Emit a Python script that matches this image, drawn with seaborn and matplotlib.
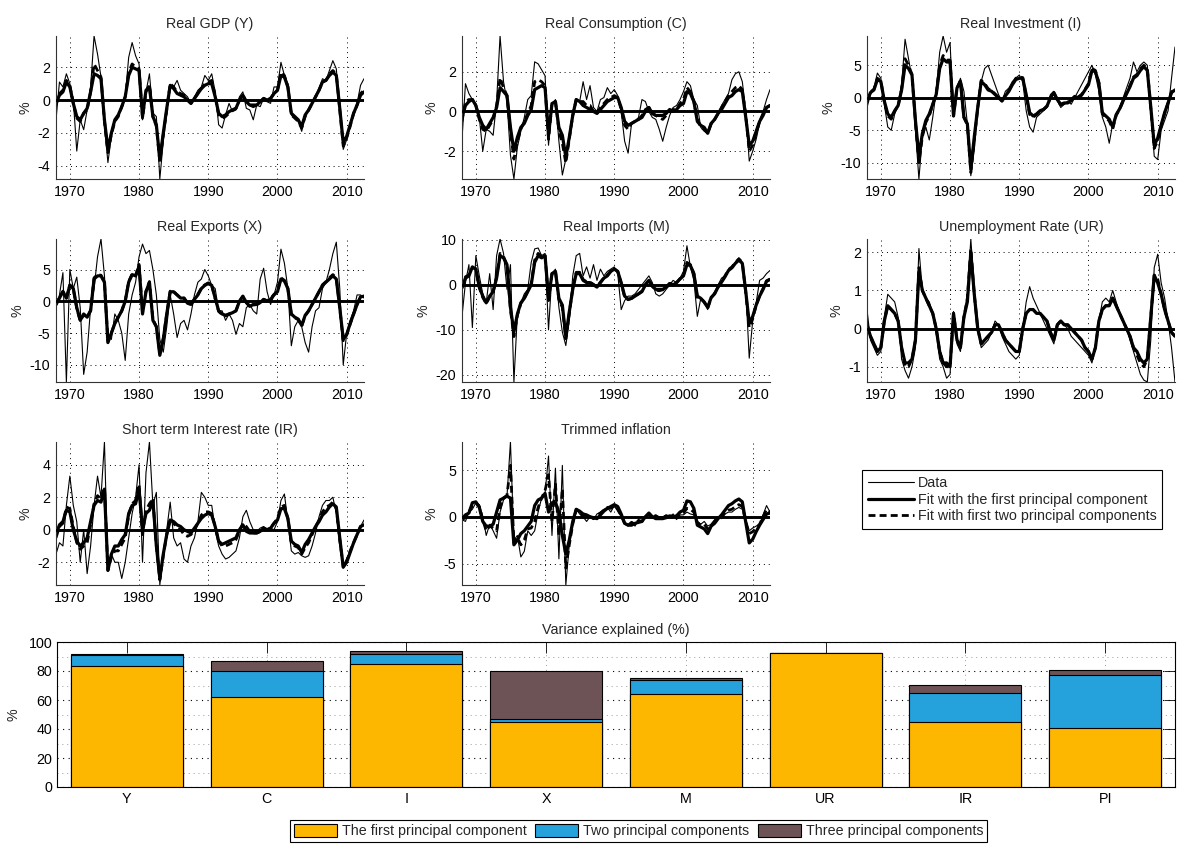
import numpy as np
import matplotlib
matplotlib.use("Agg")
import matplotlib.pyplot as plt
from matplotlib.lines import Line2D
from matplotlib.patches import Patch
from matplotlib.ticker import FixedLocator
import seaborn as sns

sns.set_style("white")
plt.rcParams["font.family"] = ["Liberation Sans", "DejaVu Sans"]
plt.rcParams["font.size"] = 10.3
plt.rcParams["axes.unicode_minus"] = False

FS = 10.3

# ---------------------------------------------------------------------------
# Half-yearly observations, 1968.0 ... 2012.5 (one row = five years)
# ---------------------------------------------------------------------------
gdp_data = [
    -1.2, 1.1, 0.8, 1.6, 1.0, 0.0, -3.1, -1.2, -1.8, -0.6,
    0.8, 3.9, 2.8, 1.4, -1.5, -3.8, -2.2, -1.3, -1.0, -0.3,
    0.2, 2.6, 3.5, 2.7, 2.2, -1.2, 0.5, 1.6, -0.8, -1.0,
    -4.8, -2.5, -0.8, 0.9, 0.8, 1.2, 0.6, 0.4, 0.2, -0.2,
    0.2, 0.6, 0.8, 1.5, 1.2, 1.6, 0.5, -1.5, -1.7, -0.9,
    -0.2, -0.7, -0.6, 0.2, 0.5, -0.5, -0.6, -1.2, -0.3, -0.4,
    0.1, -0.1, -0.2, 0.8, 0.8, 2.3, 1.5, 1.0, -0.9, -1.1,
    -1.3, -1.9, -1.0, -0.6, -0.2, 0.3, 0.7, 1.3, 1.2, 1.8,
    2.4, 1.9, -0.5, -3.0, -2.4, -1.6, -0.9, -0.2, 0.9, 1.3]
gdp_fit1 = [
    -0.2, 0.3, 0.5, 1.1, 0.8, -0.2, -1.0, -1.2, -0.8, -0.5,
    0.5, 1.6, 1.5, 1.3, -1.2, -3.0, -2.0, -1.2, -0.9, -0.4,
    0.2, 1.5, 2.0, 1.9, 1.8, -1.0, 0.6, 0.8, -1.0, -1.5,
    -3.6, -2.0, -0.5, 0.9, 0.7, 0.4, 0.3, 0.2, 0.0, -0.2,
    0.1, 0.4, 0.7, 0.9, 1.0, 1.0, 0.2, -0.8, -1.0, -0.9,
    -0.7, -0.6, -0.5, 0.0, 0.3, -0.1, -0.3, -0.3, -0.3, -0.1,
    0.1, 0.0, 0.1, 0.4, 0.6, 1.5, 1.4, 0.8, -0.8, -1.0,
    -1.2, -1.6, -0.9, -0.6, -0.2, 0.2, 0.6, 1.1, 1.2, 1.5,
    1.7, 1.5, -0.5, -2.6, -2.2, -1.5, -0.8, -0.3, 0.3, 0.5]
gdp_fit2 = [
    -0.3, 0.4, 0.6, 1.2, 0.9, -0.2, -1.1, -1.3, -0.8, -0.6,
    0.5, 2.2, 1.8, 1.4, -1.3, -3.2, -2.1, -1.3, -1.0, -0.4,
    0.2, 1.7, 2.2, 2.0, 1.9, -1.1, 0.5, 0.9, -1.0, -1.6,
    -3.8, -2.1, -0.6, 1.0, 0.8, 0.5, 0.4, 0.3, 0.0, -0.2,
    0.1, 0.4, 0.7, 1.0, 1.1, 1.2, 0.3, -0.9, -1.1, -1.0,
    -0.8, -0.6, -0.5, 0.0, 0.3, -0.1, -0.3, -0.4, -0.3, -0.1,
    0.1, 0.0, 0.1, 0.4, 0.6, 1.7, 1.5, 0.8, -0.9, -1.1,
    -1.3, -1.7, -1.0, -0.6, -0.2, 0.2, 0.6, 1.1, 1.2, 1.6,
    1.8, 1.6, -0.6, -2.8, -2.3, -1.6, -0.8, -0.3, 0.4, 0.6]

cons_data = [
    -1.4, 1.4, 0.9, 0.6, 0.4, -0.3, -2.0, -0.9, -1.0, -1.2,
    0.5, 3.8, 1.5, 0.5, -2.2, -3.4, -1.8, -1.0, -0.3, 0.6,
    0.8, 2.5, 2.4, 2.1, 1.8, -1.7, 0.3, 0.6, -1.5, -3.2,
    -2.4, -1.5, -0.2, 0.6, 0.5, 1.5, 0.6, 1.3, 0.2, 0.0,
    0.6, 0.7, 1.2, 0.9, 1.1, 0.8, 0.0, -1.5, -2.1, -0.6,
    -0.5, -0.3, 0.6, 0.5, 0.0, -0.3, -0.4, -0.9, -1.5, -0.8,
    -0.2, 0.2, 0.3, 0.6, 1.0, 1.5, 1.3, 0.6, 0.3, -0.8,
    -1.0, -1.1, -0.7, -0.4, -0.1, 0.3, 0.6, 0.9, 1.6, 1.9,
    2.0, 1.5, 0.0, -2.5, -2.0, -1.4, -0.6, 0.0, 0.6, 1.1]
cons_fit1 = [
    -0.3, 0.3, 0.5, 0.6, 0.3, -0.3, -0.7, -0.9, -0.6, -0.3,
    0.2, 1.2, 1.0, 0.8, -0.8, -2.0, -1.3, -0.8, -0.6, -0.2,
    0.1, 1.1, 1.2, 1.3, 1.2, -1.2, 0.4, 0.5, -0.8, -1.2,
    -2.3, -1.3, -0.2, 0.6, 0.5, 0.3, 0.2, 0.1, 0.0, -0.1,
    0.1, 0.3, 0.5, 0.6, 0.7, 0.7, 0.2, -0.5, -0.7, -0.6,
    -0.5, -0.4, -0.3, 0.0, 0.2, -0.1, -0.2, -0.2, -0.2, -0.1,
    0.1, 0.0, 0.1, 0.3, 0.4, 1.0, 0.9, 0.5, -0.5, -0.7,
    -0.8, -1.1, -0.6, -0.4, -0.1, 0.1, 0.4, 0.7, 0.8, 1.0,
    1.1, 1.0, -0.3, -1.7, -1.5, -1.0, -0.5, -0.2, 0.2, 0.3]
cons_fit2 = [
    -0.5, 0.5, 0.6, 0.6, 0.3, -0.4, -0.9, -1.0, -0.7, -0.4,
    0.3, 1.7, 1.2, 0.8, -1.0, -2.4, -1.5, -0.9, -0.5, -0.1,
    0.3, 1.5, 1.6, 1.5, 1.3, -1.4, 0.4, 0.5, -1.0, -1.6,
    -2.6, -1.4, -0.2, 0.6, 0.5, 0.5, 0.3, 0.3, 0.0, -0.1,
    0.2, 0.4, 0.6, 0.7, 0.8, 0.7, 0.1, -0.7, -0.9, -0.6,
    -0.5, -0.4, -0.2, 0.1, 0.2, -0.1, -0.2, -0.3, -0.4, -0.2,
    0.0, 0.1, 0.1, 0.4, 0.6, 1.2, 1.0, 0.5, -0.4, -0.8,
    -0.9, -1.1, -0.6, -0.4, -0.1, 0.2, 0.5, 0.8, 1.0, 1.2,
    1.3, 1.1, -0.2, -2.0, -1.7, -1.1, -0.5, -0.1, 0.2, 0.3]

inv_data = [
    -1.5, 0.5, 1.5, 3.8, 3.0, -1.0, -4.5, -5.0, -2.5, -1.0,
    2.0, 9.0, 6.0, 3.0, -5.0, -12.5, -6.0, -4.5, -6.5, -3.0,
    1.0, 7.0, 9.5, 7.0, 8.5, -2.8, 1.5, 3.0, 1.0, -4.0,
    -12.0, -8.0, -2.0, 2.5, 4.5, 5.0, 3.5, 2.0, 0.5, -0.5,
    1.0, 1.5, 2.5, 3.0, 3.5, 2.5, -2.0, -4.5, -5.3, -3.0,
    -2.5, -2.0, -1.5, 0.5, 1.0, -0.5, -1.5, -1.0, -0.5, -1.0,
    0.0, 1.0, 2.0, 3.0, 4.0, 5.0, 3.5, 1.0, -3.0, -4.5,
    -7.0, -4.0, -2.5, -1.5, 0.0, 1.5, 3.0, 5.5, 4.0, 5.0,
    5.5, 5.0, -2.0, -9.0, -9.5, -5.0, -3.5, -2.0, 3.0, 7.8]
inv_fit1 = [
    -0.5, 0.8, 1.2, 2.8, 2.5, -0.5, -2.5, -3.0, -2.0, -1.2,
    1.2, 5.0, 4.5, 3.5, -3.5, -9.0, -5.5, -3.5, -2.5, -1.0,
    0.5, 4.5, 6.0, 5.5, 5.5, -2.8, 1.5, 2.5, -3.0, -4.0,
    -11.0, -6.0, -1.5, 2.5, 2.0, 1.2, 1.0, 0.5, 0.0, -0.5,
    0.3, 1.0, 2.0, 2.8, 3.0, 3.0, 0.5, -2.3, -2.8, -2.5,
    -2.0, -1.8, -1.3, 0.0, 0.8, -0.3, -1.0, -0.8, -0.8, -0.4,
    0.2, 0.0, 0.4, 1.2, 2.0, 4.2, 4.0, 2.3, -2.3, -2.8,
    -3.3, -4.5, -2.6, -1.7, -0.5, 0.6, 1.7, 3.0, 3.4, 4.2,
    4.8, 4.2, -1.4, -7.3, -6.2, -4.2, -2.3, -0.8, 0.8, 1.2]
inv_fit2 = [
    -0.6, 0.9, 1.3, 3.0, 2.6, -0.6, -2.8, -3.3, -2.1, -1.2,
    1.3, 6.0, 5.0, 3.6, -3.8, -10.0, -6.0, -3.8, -2.8, -1.0,
    0.6, 5.0, 6.5, 5.8, 5.8, -2.8, 1.5, 2.7, -3.0, -4.2,
    -11.5, -6.5, -1.6, 2.7, 2.2, 1.4, 1.1, 0.6, 0.0, -0.5,
    0.4, 1.1, 2.1, 3.0, 3.2, 3.1, 0.3, -2.6, -3.0, -2.6,
    -2.1, -1.8, -1.3, 0.0, 0.8, -0.4, -1.1, -0.9, -0.8, -0.4,
    0.2, 0.1, 0.5, 1.3, 2.2, 4.5, 4.2, 2.3, -2.5, -3.0,
    -3.6, -4.8, -2.7, -1.8, -0.5, 0.7, 1.9, 3.2, 3.6, 4.5,
    5.0, 4.5, -1.6, -7.8, -6.6, -4.4, -2.4, -0.8, 0.9, 1.3]

exp_data = [
    -1.0, 1.0, 4.5, -12.7, 5.0, 2.0, 3.8, -1.0, -11.5, -8.0,
    -1.0, 2.0, 7.0, 9.8, 4.0, -5.0, -6.0, -2.0, -3.0, -5.0,
    -9.3, -2.0, 1.0, 3.0, 7.0, 9.0, 7.5, 8.0, 5.0, 1.0,
    -6.0, -8.0, -4.0, 1.0, -2.0, -5.7, -3.5, -3.0, -4.5, -2.0,
    1.0, 3.0, 3.5, 5.0, 4.0, 2.5, 2.0, -1.5, -1.5, -3.0,
    -2.0, -3.0, -5.2, -3.5, -4.0, -1.0, -0.5, -1.5, -2.0, 3.5,
    5.2, 1.5, -0.5, 1.0, 3.0, 8.2, 6.0, 2.0, -7.0, -4.0,
    -3.0, -4.0, -6.5, -8.0, -4.0, -1.5, -1.0, 2.0, 3.0, 5.0,
    7.5, 9.3, 2.0, -10.0, -5.0, -3.0, -1.5, 1.0, 1.0, 0.5]
exp_fit1 = [
    -0.5, 0.5, 1.5, 0.5, 2.5, 2.0, -1.0, -3.0, -2.0, -2.5,
    -1.5, 3.5, 4.0, 4.0, 3.0, -6.5, -5.0, -3.5, -2.5, -1.5,
    0.0, 3.0, 4.2, 4.0, 5.5, -2.0, 1.5, 3.0, -3.0, -4.0,
    -8.5, -6.0, -2.0, 1.5, 1.5, 1.0, 0.5, 0.5, -0.3, -0.5,
    0.3, 1.0, 2.0, 2.5, 2.8, 2.5, 0.5, -1.5, -2.0, -2.2,
    -2.0, -1.8, -1.5, 0.0, 0.8, -0.2, -0.8, -0.5, -0.5, -0.2,
    0.3, 0.0, 0.3, 1.0, 1.5, 3.5, 3.2, 2.0, -2.0, -2.5,
    -2.8, -3.8, -2.2, -1.5, -0.5, 0.5, 1.5, 2.5, 3.0, 3.5,
    4.0, 3.5, -1.0, -6.0, -5.2, -3.5, -2.0, -0.5, 0.7, 0.8]
exp_fit2 = [
    -0.5, 0.6, 1.6, 0.5, 2.6, 2.0, -1.1, -3.1, -2.1, -2.5,
    -1.4, 3.7, 4.2, 4.1, 3.0, -6.3, -5.0, -3.4, -2.5, -1.5,
    0.1, 3.1, 4.3, 4.0, 5.8, -1.8, 1.6, 3.1, -2.8, -4.0,
    -8.2, -5.8, -2.0, 1.6, 1.5, 1.0, 0.5, 0.5, -0.3, -0.5,
    0.4, 1.1, 2.1, 2.6, 2.9, 2.5, 0.4, -1.6, -2.1, -2.3,
    -2.0, -1.8, -1.5, 0.0, 0.8, -0.2, -0.8, -0.6, -0.5, -0.2,
    0.3, 0.1, 0.4, 1.1, 1.6, 3.7, 3.3, 2.0, -2.1, -2.6,
    -2.9, -3.9, -2.3, -1.5, -0.5, 0.5, 1.5, 2.6, 3.1, 3.7,
    4.2, 3.7, -1.1, -6.2, -5.3, -3.6, -2.0, -0.5, 0.7, 0.8]

imp_data = [
    -7.0, 0.5, 4.5, -9.5, 6.5, 2.0, -2.0, -4.0, 2.5, -5.5,
    6.5, 10.2, 7.0, -1.0, 4.5, -21.6, -6.5, -4.0, -2.0, -1.0,
    5.0, 8.0, 8.2, 6.5, 7.0, -10.0, 2.5, 3.5, -5.0, -10.5,
    -13.5, -8.0, 2.0, 6.5, 7.0, 2.0, 4.0, 1.5, 4.5, 1.0,
    3.5, 2.0, 3.0, 3.5, 4.0, 2.5, -5.5, -3.5, -2.5, -2.5,
    -2.0, -1.0, 0.0, 1.0, 2.0, 0.5, -2.0, -2.5, -2.0, -1.0,
    0.0, 1.0, 0.5, 1.5, 3.0, 8.7, 4.0, 1.0, -7.0, -3.0,
    -4.0, -5.5, -3.0, -1.5, 0.0, 1.5, 2.0, 3.0, 4.0, 5.0,
    6.0, 5.0, -1.0, -16.3, -8.0, -4.0, 1.0, 1.5, 2.5, 3.2]
imp_fit1 = [
    -0.5, 1.5, 2.0, 4.0, 3.5, -0.5, -2.5, -4.0, -2.5, -1.5,
    1.5, 6.5, 6.0, 4.5, -5.0, -10.5, -6.5, -4.0, -3.0, -1.5,
    0.0, 5.0, 6.5, 6.0, 6.5, -3.0, 2.5, 3.0, -3.0, -4.5,
    -11.5, -6.0, -1.0, 2.5, 2.5, 1.0, 0.5, 0.5, 0.0, -0.5,
    0.5, 1.5, 2.0, 3.0, 3.5, 3.0, 0.5, -2.5, -3.2, -3.0,
    -2.5, -2.0, -1.5, 0.0, 1.0, -0.3, -1.0, -1.0, -1.0, -0.5,
    0.3, 0.0, 0.5, 1.3, 2.0, 4.5, 4.3, 2.5, -2.5, -3.0,
    -3.8, -5.0, -2.8, -2.0, -0.5, 0.6, 1.8, 3.2, 3.8, 4.8,
    5.5, 4.8, -1.5, -8.5, -7.0, -4.5, -2.5, -1.0, 0.8, 1.2]
imp_fit2 = [
    -0.8, 1.8, 2.2, 3.8, 3.6, -0.6, -2.8, -4.2, -2.6, -1.6,
    1.8, 7.0, 6.3, 4.4, -5.5, -11.5, -6.8, -4.1, -3.0, -1.4,
    0.3, 5.5, 7.0, 6.3, 6.7, -3.5, 2.5, 3.1, -3.3, -5.0,
    -12.0, -6.3, -0.8, 2.8, 2.8, 1.2, 0.7, 0.6, 0.1, -0.4,
    0.6, 1.6, 2.2, 3.1, 3.6, 3.0, 0.3, -2.7, -3.3, -3.0,
    -2.5, -2.0, -1.4, 0.1, 1.1, -0.3, -1.2, -1.3, -1.1, -0.6,
    0.3, 0.1, 0.5, 1.4, 2.2, 5.0, 4.5, 2.5, -2.8, -3.0,
    -3.9, -5.2, -2.9, -1.9, -0.4, 0.8, 2.0, 3.4, 4.0, 5.0,
    5.8, 5.0, -1.8, -9.5, -7.5, -4.6, -2.4, -0.8, 0.9, 1.3]

ur_data = [
    0.5, -0.3, -0.5, -0.7, -0.6, 0.3, 0.9, 0.8, 0.7, 0.3,
    -0.8, -1.1, -1.3, -1.0, -0.5, 2.1, 1.0, 0.8, 0.7, 0.4,
    -0.1, -0.8, -1.0, -1.3, -1.2, 0.45, -0.4, -0.6, 0.3, 0.9,
    2.35, 1.0, 0.0, -0.5, -0.4, -0.3, -0.1, 0.2, 0.1, -0.2,
    -0.4, -0.6, -0.7, -0.8, -0.7, 0.0, 0.7, 1.1, 0.8, 0.6,
    0.4, 0.2, 0.0, -0.2, -0.4, 0.1, 0.2, 0.1, 0.0, -0.2,
    -0.3, -0.4, -0.5, -0.6, -0.7, -0.9, -0.5, 0.2, 0.7, 0.8,
    0.7, 1.0, 0.7, 0.4, 0.2, 0.0, -0.3, -0.6, -0.9, -1.2,
    -1.35, -1.4, -0.3, 1.6, 1.95, 1.2, 0.8, 0.2, -0.5, -1.4]
ur_fit1 = [
    0.1, -0.2, -0.4, -0.6, -0.5, 0.2, 0.6, 0.5, 0.4, 0.2,
    -0.5, -0.9, -0.9, -0.8, -0.3, 1.5, 1.0, 0.8, 0.6, 0.4,
    0.0, -0.6, -0.9, -0.9, -1.0, 0.4, -0.3, -0.5, 0.3, 0.7,
    2.0, 0.9, 0.0, -0.4, -0.3, -0.2, -0.1, 0.1, 0.1, -0.1,
    -0.3, -0.4, -0.5, -0.6, -0.6, 0.0, 0.4, 0.5, 0.5, 0.4,
    0.4, 0.3, 0.2, -0.1, -0.3, 0.1, 0.2, 0.1, 0.1, 0.0,
    -0.1, -0.2, -0.3, -0.5, -0.6, -0.8, -0.5, 0.2, 0.5, 0.6,
    0.6, 0.8, 0.6, 0.4, 0.2, 0.0, -0.2, -0.5, -0.6, -0.8,
    -0.9, -0.8, 0.3, 1.4, 1.2, 0.9, 0.5, 0.2, -0.1, -0.2]
ur_fit2 = [
    0.1, -0.2, -0.4, -0.6, -0.5, 0.2, 0.6, 0.5, 0.4, 0.2,
    -0.5, -1.0, -1.0, -0.8, -0.3, 1.6, 1.0, 0.8, 0.6, 0.4,
    0.0, -0.6, -0.9, -1.0, -1.0, 0.4, -0.3, -0.5, 0.3, 0.8,
    2.1, 0.9, 0.0, -0.4, -0.3, -0.2, -0.1, 0.1, 0.1, -0.1,
    -0.3, -0.4, -0.5, -0.6, -0.6, 0.0, 0.4, 0.5, 0.5, 0.4,
    0.4, 0.3, 0.2, -0.1, -0.3, 0.1, 0.2, 0.1, 0.1, 0.0,
    -0.1, -0.2, -0.3, -0.5, -0.6, -0.8, -0.5, 0.2, 0.5, 0.6,
    0.6, 0.8, 0.6, 0.4, 0.2, 0.0, -0.2, -0.5, -0.7, -0.9,
    -1.0, -0.8, 0.3, 1.4, 1.3, 0.9, 0.5, 0.2, -0.1, -0.2]

ir_data = [
    -1.5, -0.8, -1.0, 1.5, 3.3, 1.5, 0.5, -2.0, 0.0, -2.7,
    -1.0, 1.5, 3.3, 2.0, 5.4, -2.5, -1.5, -2.0, -2.0, -3.0,
    -2.0, -0.5, 1.0, 2.0, 4.0, -2.0, 3.5, 5.4, 1.5, 2.3,
    -3.4, -1.5, 0.0, 1.7, -0.5, -1.0, -0.8, -1.8, -2.0, -1.0,
    -0.5, 0.5, 2.3, 2.0, 1.5, 1.5, 0.0, -1.0, -1.5, -1.8,
    -1.7, -1.5, -1.3, -0.5, 0.8, 1.2, 0.5, 0.0, -0.1, 0.1,
    0.2, 0.0, 0.1, 0.0, 0.5, 1.8, 2.2, 0.5, -1.3, -1.5,
    -1.4, -1.6, -1.7, -1.6, -1.0, -0.2, 0.8, 1.5, 1.8, 1.8,
    2.0, 1.0, -1.0, -2.3, -1.8, -1.3, -0.8, -0.3, 0.2, 0.6]
ir_fit1 = [
    -0.3, 0.3, 0.5, 1.2, 1.1, 0.0, -0.7, -1.0, -0.8, -0.5,
    0.5, 1.5, 1.8, 1.7, 2.5, -2.5, -1.5, -1.0, -1.0, -0.6,
    -0.3, 1.0, 1.5, 1.6, 2.5, 0.0, 1.0, 1.2, 1.8, -1.0,
    -3.0, -1.5, -0.3, 0.6, 0.5, 0.3, 0.2, 0.0, -0.1, -0.2,
    0.1, 0.4, 0.7, 0.9, 1.0, 0.9, 0.2, -0.7, -0.9, -0.8,
    -0.7, -0.6, -0.5, 0.0, 0.3, -0.1, -0.2, -0.2, -0.2, -0.1,
    0.1, 0.0, 0.1, 0.4, 0.6, 1.3, 1.3, 0.7, -0.7, -0.9,
    -1.0, -1.4, -0.9, -0.6, -0.2, 0.2, 0.5, 0.9, 1.1, 1.4,
    1.6, 1.4, -0.5, -2.3, -2.0, -1.4, -0.8, -0.3, 0.2, 0.3]
ir_fit2 = [
    -0.5, 0.2, 0.4, 1.4, 1.3, 0.2, -0.8, -1.2, -1.0, -0.8,
    0.3, 1.6, 2.1, 1.9, 2.6, -2.5, -1.7, -1.3, -1.3, -0.9,
    -0.5, 0.9, 1.6, 1.8, 2.8, -0.3, 1.2, 1.6, 1.9, -1.0,
    -3.1, -1.6, -0.3, 0.7, 0.4, 0.1, 0.0, -0.3, -0.4, -0.3,
    0.0, 0.4, 0.9, 1.1, 1.1, 1.0, 0.2, -0.7, -1.0, -1.0,
    -0.9, -0.8, -0.6, -0.1, 0.4, 0.2, -0.1, -0.2, -0.2, -0.1,
    0.1, 0.0, 0.1, 0.4, 0.7, 1.4, 1.5, 0.7, -0.8, -1.0,
    -1.1, -1.5, -1.1, -0.8, -0.3, 0.2, 0.6, 1.1, 1.4, 1.5,
    1.7, 1.3, -0.6, -2.3, -1.9, -1.3, -0.8, -0.3, 0.2, 0.4]

pi_data = [
    -0.3, -0.5, 0.5, 0.8, 1.5, 1.3, 0.0, -2.0, -0.8, -1.5,
    -2.3, 0.5, 1.8, 2.2, 8.0, -2.5, -2.0, -4.3, -3.7, -1.5,
    -2.0, -1.5, 0.5, 2.0, 2.5, 6.5, -2.0, 5.2, -4.5, 5.5,
    -7.3, -3.0, -1.0, 0.8, 0.3, 0.0, -0.5, 0.0, -0.3, 0.3,
    0.5, 0.8, 1.0, 0.5, 1.2, 0.6, 0.0, -0.8, -1.0, -0.5,
    -1.0, -0.3, -0.5, 0.0, 0.3, 0.0, 0.2, -0.1, 0.0, 0.2,
    0.0, 0.3, -0.3, 0.2, 0.2, 0.5, 0.3, 0.2, -0.5, -0.8,
    -0.5, -1.0, -0.8, -0.3, 0.0, -0.2, 0.3, 0.5, 0.5, 0.8,
    1.0, 0.8, -0.5, -1.5, -1.2, -1.0, -0.8, 0.2, 1.2, 0.5]
pi_fit1 = [
    -0.2, 0.2, 0.4, 1.5, 1.6, 1.0, -0.5, -1.0, -1.0, -0.8,
    0.5, 1.8, 2.0, 2.2, 2.0, -3.0, -2.5, -1.8, -1.5, -1.0,
    -0.5, 1.2, 1.8, 2.0, 2.5, 0.5, 1.5, 1.5, 0.5, -2.0,
    -4.0, -2.5, -0.5, 0.8, 0.6, 0.3, 0.2, 0.0, -0.1, -0.2,
    0.2, 0.6, 0.9, 1.1, 1.3, 1.1, 0.3, -0.7, -0.9, -0.9,
    -0.7, -0.6, -0.5, 0.0, 0.4, 0.0, -0.2, -0.2, -0.2, -0.1,
    0.1, 0.0, 0.1, 0.5, 0.7, 1.7, 1.6, 0.9, -0.9, -1.1,
    -1.3, -1.8, -1.0, -0.7, -0.2, 0.2, 0.7, 1.2, 1.4, 1.7,
    1.9, 1.6, -0.6, -2.8, -2.4, -1.6, -0.9, -0.3, 0.3, 0.4]
pi_fit2 = [
    -0.3, -0.1, 0.5, 1.2, 1.5, 1.1, -0.3, -1.5, -1.0, -1.2,
    -1.5, 1.0, 2.0, 2.3, 5.5, -2.8, -2.2, -3.0, -2.5, -1.3,
    -1.2, -0.5, 1.0, 2.0, 2.8, 4.5, -0.5, 3.5, -2.0, 3.0,
    -5.5, -3.0, -0.8, 0.8, 0.4, 0.1, -0.2, 0.0, -0.2, 0.1,
    0.4, 0.7, 1.0, 0.9, 1.2, 0.8, 0.1, -0.7, -0.9, -0.6,
    -0.8, -0.4, -0.5, 0.0, 0.3, 0.0, 0.1, -0.1, -0.1, 0.1,
    0.0, 0.2, -0.1, 0.3, 0.4, 0.9, 0.8, 0.5, -0.6, -0.9,
    -0.8, -1.3, -0.9, -0.5, -0.1, 0.0, 0.4, 0.7, 0.8, 1.1,
    1.3, 1.1, -0.5, -1.8, -1.6, -1.2, -0.8, 0.0, 0.8, 0.5]

# Share of variance explained by the leading principal components (%)
variables = ["Y", "C", "I", "X", "M", "UR", "IR", "PI"]
var_pc1 = [83.5, 61.8, 85.1, 45.1, 63.8, 92.2, 44.9, 41.0]
var_pc2 = [90.8, 80.1, 92.0, 47.1, 73.5, 92.3, 64.5, 77.3]
var_pc3 = [91.6, 87.2, 94.0, 80.3, 75.3, 92.4, 70.3, 80.8]

year_ticks = [1970, 1980, 1990, 2000, 2010]

panels = [
    ("Real GDP (Y)", gdp_data, gdp_fit1, gdp_fit2, [-4, -2, 0, 2]),
    ("Real Consumption (C)", cons_data, cons_fit1, cons_fit2, [-2, 0, 2]),
    ("Real Investment (I)", inv_data, inv_fit1, inv_fit2, [-10, -5, 0, 5]),
    ("Real Exports (X)", exp_data, exp_fit1, exp_fit2, [-10, -5, 0, 5]),
    ("Real Imports (M)", imp_data, imp_fit1, imp_fit2, [-20, -10, 0, 10]),
    ("Unemployment Rate (UR)", ur_data, ur_fit1, ur_fit2, [-1, 0, 1, 2]),
    ("Short term Interest rate (IR)", ir_data, ir_fit1, ir_fit2, [-2, 0, 2, 4]),
    ("Trimmed inflation", pi_data, pi_fit1, pi_fit2, [-5, 0, 5]),
]

# ---------------------------------------------------------------------------
W, H = 1177, 844
fig = plt.figure(figsize=(W / 100, H / 100), dpi=100)
fig.patch.set_facecolor("white")


def rect(left, top, width, height):
    return [left / W, 1 - (top + height) / H, width / W, height / H]


col_left = [56, 462, 867]
row_top = [36, 239, 442]
panel_w, panel_h = 308, 143
dotted = (0, (1, 4))
fit2_dash = (0, (2.5, 1.5))

times = 1968 + 0.5 * np.arange(len(gdp_data))

for k, (title, data, fit1, fit2, yt) in enumerate(panels):
    r, c = divmod(k, 3)
    ax = fig.add_axes(rect(col_left[c], row_top[r], panel_w, panel_h))
    sns.lineplot(x=times, y=data, ax=ax, color="k", lw=0.8,
                 estimator=None, sort=False, legend=False)
    sns.lineplot(x=times, y=fit1, ax=ax, color="k", lw=2.3,
                 estimator=None, sort=False, legend=False)
    sns.lineplot(x=times, y=fit2, ax=ax, color="k", lw=2.0,
                 linestyle=fit2_dash, estimator=None, sort=False,
                 legend=False)
    ax.axhline(0, color="k", lw=2.1, zorder=3)
    lo = min(min(data), min(fit1), min(fit2))
    hi = max(max(data), max(fit1), max(fit2))
    ax.set_ylim(lo, hi)
    ax.set_xlim(times[0], times[-1])
    ax.set_xticks(year_ticks)
    ax.set_yticks(yt)
    ax.set_xlabel("")
    ax.set_ylabel("%", fontsize=FS, labelpad=4)
    ax.set_title(title, fontsize=FS, pad=6)
    ax.grid(True, color="k", lw=0.7, linestyle=dotted)
    ax.set_axisbelow(True)
    for s in ("top", "right"):
        ax.spines[s].set_visible(False)
    for s in ("left", "bottom"):
        ax.spines[s].set_color("#333333")
        ax.spines[s].set_linewidth(0.8)
    ax.tick_params(direction="in", length=2.5, width=0.6, labelsize=FS,
                   pad=4, colors="k")

line_handles = [
    Line2D([], [], color="k", lw=0.8),
    Line2D([], [], color="k", lw=2.3),
    Line2D([], [], color="k", lw=2.0, linestyle=fit2_dash),
]
leg = fig.legend(line_handles,
                 ["Data", "Fit with the first principal component",
                  "Fit with first two principal components"],
                 loc="upper left", bbox_to_anchor=(862 / W, 1 - 470 / H),
                 borderaxespad=0, fontsize=FS, handlelength=3.2,
                 handletextpad=0.3, labelspacing=0.2, borderpad=0.4,
                 fancybox=False, framealpha=1, edgecolor="k")
leg.get_frame().set_linewidth(0.8)

# ---------------------------------------------------------------------------
# Variance explained bar chart
# ---------------------------------------------------------------------------
col_pc1 = "#FDB700"
col_pc2 = "#25A1DB"
col_pc3 = "#6D5356"

axb = fig.add_axes(rect(57, 642, 1118, 145))
bar_kw = dict(ax=axb, width=0.8, edgecolor="k", linewidth=0.8,
              saturation=1, order=variables)
sns.barplot(x=variables, y=var_pc3, color=col_pc3, **bar_kw)
sns.barplot(x=variables, y=var_pc2, color=col_pc2, **bar_kw)
sns.barplot(x=variables, y=var_pc1, color=col_pc1, **bar_kw)
axb.set_xlim(-0.5, len(variables) - 0.5)
axb.set_ylim(0, 100)
axb.set_yticks([0, 20, 40, 60, 80, 100])
axb.yaxis.set_minor_locator(FixedLocator([10, 30, 50, 70, 90]))
axb.set_xlabel("")
axb.set_ylabel("%", fontsize=FS, labelpad=6)
axb.set_title("Variance explained (%)", fontsize=FS, pad=6)
axb.set_axisbelow(True)
axb.yaxis.grid(True, which="major", color="k", lw=0.8, linestyle=dotted)
axb.yaxis.grid(True, which="minor", color="#9a9a9a", lw=0.7, linestyle=dotted)
axb.xaxis.grid(True, color="#9a9a9a", lw=0.7, linestyle=dotted)
for s in axb.spines.values():
    s.set_color("k")
    s.set_linewidth(0.8)
    s.set_visible(True)
axb.tick_params(axis="both", which="major", direction="in", length=8,
                width=0.6, top=True, right=True, labelsize=FS, colors="k")
axb.tick_params(axis="y", which="minor", length=0)

bar_handles = [Patch(facecolor=col_pc1, edgecolor="k", lw=0.8),
               Patch(facecolor=col_pc2, edgecolor="k", lw=0.8),
               Patch(facecolor=col_pc3, edgecolor="k", lw=0.8)]
legb = fig.legend(bar_handles,
                  ["The first principal component", "Two principal components",
                   "Three principal components"],
                  loc="center", bbox_to_anchor=(638.5 / W, 1 - 831 / H),
                  borderaxespad=0, ncol=3, fontsize=FS, handlelength=3.0,
                  handleheight=1.1, handletextpad=0.35, columnspacing=0.6,
                  borderpad=0.25, fancybox=False, framealpha=1,
                  edgecolor="k")
legb.get_frame().set_linewidth(0.8)

fig.savefig("out.png", dpi=100, facecolor="white")
